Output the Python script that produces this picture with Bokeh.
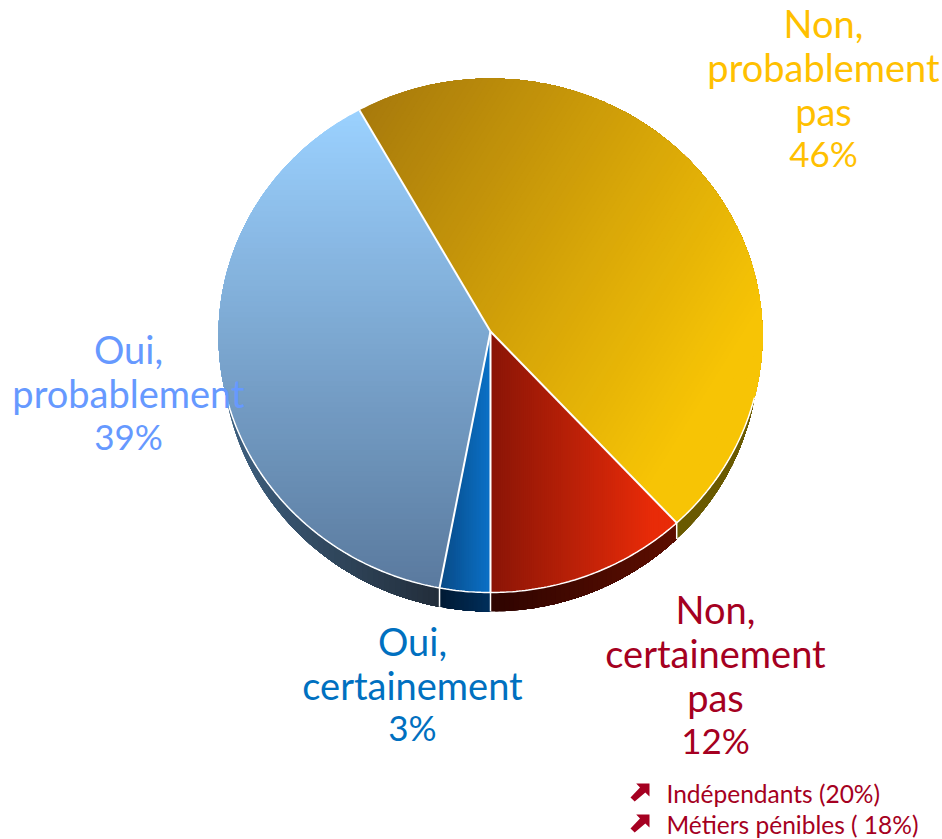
from bokeh.plotting import figure
from bokeh.models import Range1d
from bokeh.core.properties import value
from bokeh.embed import file_html
from bokeh.resources import INLINE
import math

# data
names = ["Oui, certainement", "Oui, probablement", "Non, probablement pas", "Non, certainement pas"]
shares = [3, 39, 46, 12]
label_lines = [["Oui,", "certainement"], ["Oui,", "probablement"],
               ["Non,", "probablement", "pas"], ["Non,", "certainement", "pas"]]
share_labels = ["3%", "39%", "46%", "12%"]
notes = ["Indépendants (20%)", "Métiers pénibles ( 18%)"]

# style
text_colors = ["#0070C0", "#6699FF", "#FFC000", "#A50021"]
top_grad = [((1, 0), "#0a4a86", "#0b72c8", 1.0), ((0, 1), "#9bd1ff", "#5a7a9e", 1.0),
            ((1, 0.62), "#a87a0c", "#f7c405", 1.12), ((1, 0), "#8a1507", "#e82b08", 1.15)]
side_grad = [((1, 0), "#001a33", "#002f5c", 1.0), ((1, 0), "#3f6282", "#222d3a", 1.0),
             ((1, 0), "#6a5a00", "#6a5a00", 1.0), ((1, 0), "#2e0400", "#5e0e00", 1.0)]
label_pos = [(412, [640, 684]), (128, [348, 392]),
             (823, [22, 66, 110]), (715, [608, 652, 696])]
share_pos = [(412, 726), (128, 435), (823, 152), (715, 739)]
note_y = [793, 824]
note_color = "#A50021"

W, H = 942, 839
CX, CY, RX, RY = 490, 335, 272, 257
AX, AY = 490, 331                # where the slices meet
BCY, BRX, BRY = 353, 268, 258    # lower rim of the pie

p = figure(width=W, height=H, output_backend="svg", toolbar_location=None,
           x_range=Range1d(0, W), y_range=Range1d(H, 0), min_border=0)
p.axis.visible = False
p.grid.visible = False
p.outline_line_color = None


def hexrgb(c):
    return [int(c[i:i + 2], 16) for i in (1, 3, 5)]


def lerp(a, b, t):
    A, B = hexrgb(a), hexrgb(b)
    t = min(1, t)
    return "#%02x%02x%02x" % tuple(round(A[i] + (B[i] - A[i]) * t) for i in range(3))


def clip(poly, d, lim):
    out = []
    f = lambda q: q[0] * d[0] + q[1] * d[1] - lim
    for i in range(len(poly)):
        a, b = poly[i], poly[(i + 1) % len(poly)]
        fa, fb = f(a), f(b)
        if fa >= 0:
            out.append(a)
        if fa * fb < 0:
            t = fa / (fa - fb)
            out.append((a[0] + (b[0] - a[0]) * t, a[1] + (b[1] - a[1]) * t))
    return out


def fill_gradient(poly, grad, n=90):
    # painted back to front: every band covers all that lies further on, so no seams show
    d, c0, c1, reach = grad
    L = math.hypot(*d)
    d = (d[0] / L, d[1] / L)
    pr = [q[0] * d[0] + q[1] * d[1] for q in poly]
    lo, hi = min(pr), max(pr)
    xs, ys, cs = [], [], []
    for k in range(n):
        s = clip(poly, d, lo + (hi - lo) * k / n) if k else poly
        if len(s) >= 3:
            xs.append([q[0] for q in s])
            ys.append([q[1] for q in s])
            cs.append(lerp(c0, c1, reach * (k + 0.5) / n))
    p.patches(xs, ys, fill_color=cs, line_color=None)


def pt(deg):
    r = math.radians(deg)
    return (CX + RX * math.sin(r), CY - RY * math.cos(r))


def arc(a, b):
    n = max(2, int(abs(b - a) * 1.5))
    return [pt(a + (b - a) * i / n) for i in range(n + 1)]


def lower(q):
    u = (q[0] - CX) / BRX
    if abs(u) >= 1:
        return q
    return (q[0], max(q[1], BCY + BRY * math.sqrt(1 - u * u)))


angles = [180.0]
for s in shares:
    angles.append(angles[-1] + s * 3.6)

for i in range(len(shares)):
    a, b = angles[i], angles[i + 1]
    for off in (0, 360, -360):
        lo, hi = max(a + off, 90), min(b + off, 270)
        if hi > lo:
            front = arc(lo, hi)
            fill_gradient(front + [lower(q) for q in reversed(front)], side_grad[i], 40)

for i in range(len(shares)):
    fill_gradient([(AX, AY)] + arc(angles[i], angles[i + 1]), top_grad[i])

for ang in angles[:-1]:
    x, y = pt(ang)
    p.line([AX, x], [AY, y], line_color="white", line_width=2)
    if 90 <= (ang % 360) <= 270:
        x2, y2 = lower((x, y))
        p.line([x, x2], [y, y2], line_color="white", line_width=1.5)
rim = arc(104, 256)
p.line([q[0] for q in rim], [q[1] for q in rim], line_color="white", line_width=1.5)

for i in range(len(shares)):
    lx, ys = label_pos[i]
    p.text([lx] * len(ys), ys, text=label_lines[i], text_font=value("Lato"), text_font_size="38px",
           text_color=text_colors[i], text_align="center", text_baseline="middle")
    sx, sy = share_pos[i]
    p.text([sx], [sy], text=[share_labels[i]], text_font=value("Lato"), text_font_size="35px",
           text_color=text_colors[i], text_align="center", text_baseline="middle")

# arrows in front of the notes, one unit square each
shape = [(0.30, 0), (1, 0), (1, 0.72), (0.78, 0.50), (0.22, 1), (0, 0.78), (0.50, 0.22)]
for y in note_y:
    p.patch([630 + 19 * u for u, v in shape], [y - 10 + 18 * v for u, v in shape], fill_color=note_color, line_color=None)
p.text([666, 666], note_y, text=notes, text_font=value("Lato"), text_font_size="24.5px",
       text_color=note_color, text_align="left", text_baseline="middle")

open("out.html", "w").write(file_html(p, INLINE))
